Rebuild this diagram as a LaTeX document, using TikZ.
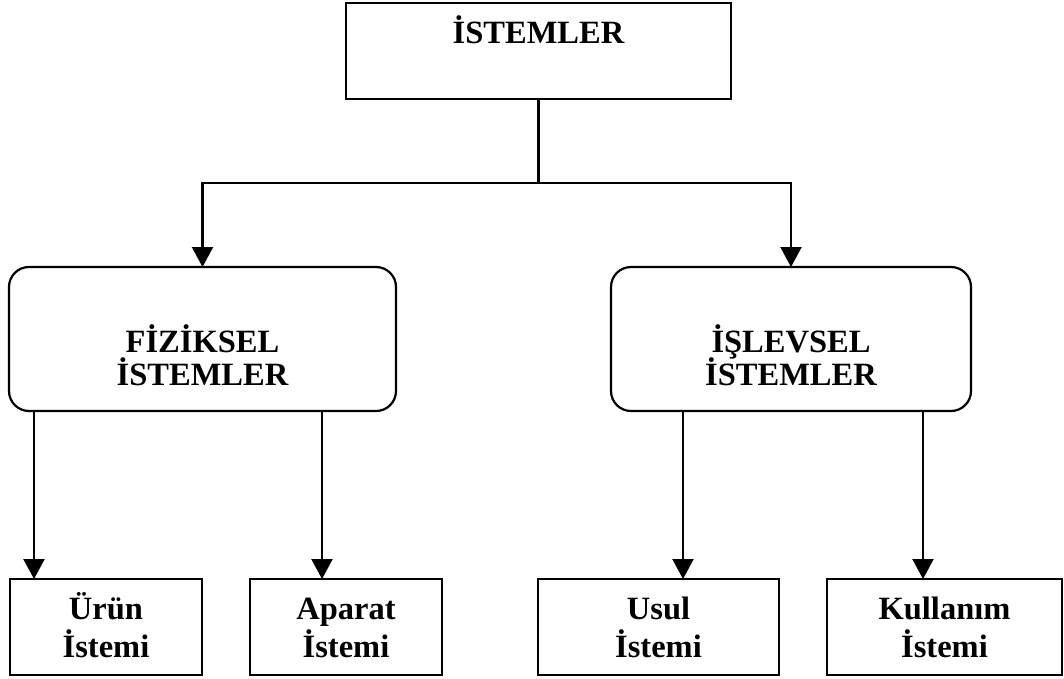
\documentclass[tikz,border=0pt]{standalone}
\usepackage{fontspec}
\setmainfont{Liberation Serif}
\usetikzlibrary{arrows.meta}
\tikzset{
  box/.style={draw, line width=2.2pt, inner sep=0pt, outer sep=0pt, minimum height=96pt},
  rbox/.style={draw, line width=2.2pt, rounded corners=20pt, inner sep=0pt, outer sep=0pt, minimum height=144pt},
  txt/.style={font=\fontsize{32.5}{34}\selectfont\bfseries, inner sep=0pt, anchor=base},
  line/.style={line width=2.2pt},
  arr/.style={line width=2.2pt, -{Triangle[length=20pt,width=21pt]}}
}
\begin{document}
\begin{tikzpicture}[x=1pt,y=-1pt]
\useasboundingbox (0,0) rectangle (1064,679);
% boxes
\node[box, minimum width=385pt] (top) at (538.5,51) {};
\node[rbox, minimum width=387pt] (L) at (202.5,339) {};
\node[rbox, minimum width=360pt] (R) at (791,339) {};
\node[box, minimum width=192pt] (B1) at (106,627) {};
\node[box, minimum width=192pt] (B2) at (346,627) {};
\node[box, minimum width=241pt] (B3) at (658.5,627) {};
\node[box, minimum width=235pt] (B4) at (944.5,627) {};
% texts
\node[txt] (ttop) at (538.5,44) {İSTEMLER};
\node[txt] (tL1) at (202.5,352) {FİZİKSEL};
\node[txt] (tL2) at (202.5,385) {İSTEMLER};
\node[txt] (tR1) at (791,352) {İŞLEVSEL};
\node[txt] (tR2) at (791,385) {İSTEMLER};
\node[txt] (tB1a) at (106,619) {Ürün};
\node[txt] (tB1b) at (106,657) {İstemi};
\node[txt] (tB2a) at (346,619) {Aparat};
\node[txt] (tB2b) at (346,657) {İstemi};
\node[txt] (tB3a) at (658.5,619) {Usul};
\node[txt] (tB3b) at (658.5,657) {İstemi};
\node[txt] (tB4a) at (944.5,619) {Kullanım};
\node[txt] (tB4b) at (944.5,657) {İstemi};
% connectors
\coordinate (j) at (538.5,183);
\draw[line] (top.south) -- (j);
\draw[arr] (j) -| (L.north);
\draw[arr] (j) -| (R.north);
\coordinate (c1) at (34,495);
\coordinate (c2) at (322,495);
\coordinate (c3) at (683,495);
\coordinate (c4) at (923,495);
\draw[arr] (L.south -| c1) -- (B1.north -| c1);
\draw[arr] (L.south -| c2) -- (B2.north -| c2);
\draw[arr] (R.south -| c3) -- (B3.north -| c3);
\draw[arr] (R.south -| c4) -- (B4.north -| c4);
\end{tikzpicture}
\end{document}
